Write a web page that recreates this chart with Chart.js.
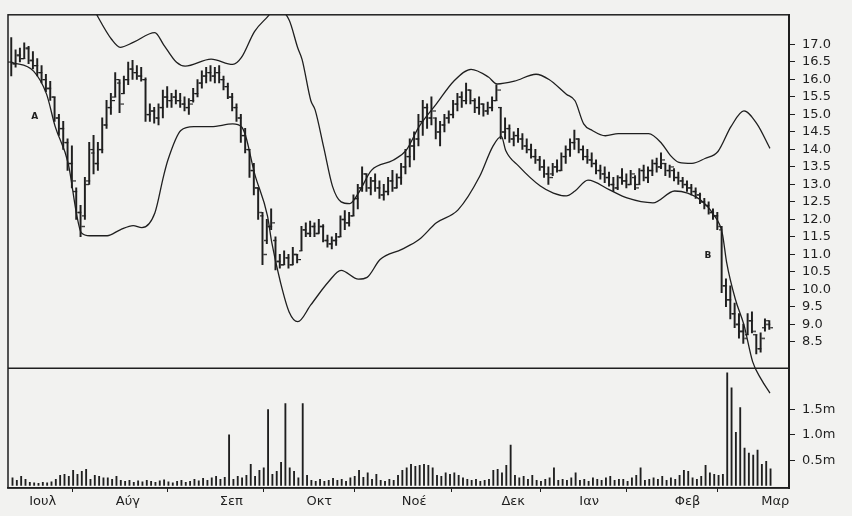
<!DOCTYPE html>
<html>
<head>
<meta charset="utf-8">
<script src="https://cdn.jsdelivr.net/npm/chart.js@4.4.1/dist/chart.umd.min.js"></script>
<style>
  html, body { margin: 0; padding: 0; background: #f2f2f0; }
  #wrap { width: 852px; height: 516px; }
</style>
</head>
<body>
<div id="wrap"><canvas id="chart" width="852" height="516"></canvas></div>
<script>
// daily bars, day 0 = late June, last day = early March
const highs = [
  17.2,16.85,16.9,17.05,16.95,16.8,16.6,16.4,16.15,15.95,
  15.5,15.0,14.8,14.3,14.1,12.9,12.4,13.2,14.2,14.4,
  14.2,14.9,15.4,15.6,16.2,16.0,16.1,16.5,16.55,16.4,
  16.35,16.05,15.3,15.2,15.3,15.7,15.8,15.6,15.7,15.6,
  15.5,15.45,15.75,16.0,16.25,16.35,16.4,16.35,16.4,16.1,
  15.9,15.6,15.3,15.0,14.6,14.0,13.6,12.9,12.2,12.0,
  12.3,11.5,11.0,11.1,11.0,11.2,11.0,11.8,11.9,11.95,
  11.9,12.0,11.85,11.55,11.5,11.6,12.1,12.25,12.2,12.7,
  13.0,13.5,13.3,13.2,13.3,13.1,13.0,13.2,13.4,13.3,
  13.6,14.0,14.3,14.5,15.0,15.4,15.3,15.5,14.9,14.8,
  15.0,15.1,15.4,15.6,15.65,15.9,15.7,15.45,15.5,15.3,
  15.35,15.5,15.85,15.2,14.9,14.7,14.5,14.6,14.45,14.3,
  14.15,14.0,13.8,13.7,13.5,13.6,13.7,13.9,14.1,14.3,
  14.55,14.3,14.1,14.0,13.9,13.7,13.55,13.5,13.35,13.2,
  13.25,13.45,13.3,13.4,13.25,13.45,13.55,13.5,13.7,13.75,
  13.9,13.6,13.55,13.45,13.35,13.2,13.1,13.0,12.9,12.75,
  12.6,12.5,12.3,12.2,11.8,10.3,10.1,9.6,9.3,9.0,
  9.3,9.35,8.7,8.75,9.15,9.1
];
const lows = [
  16.1,16.35,16.5,16.6,16.45,16.3,16.1,15.9,15.65,15.4,
  14.8,14.4,14.0,13.4,12.9,12.0,11.5,12.0,13.0,13.3,
  13.4,13.9,14.6,15.0,15.5,15.05,15.6,15.85,16.0,16.0,
  15.95,14.8,14.8,14.75,14.7,14.9,15.2,15.2,15.3,15.2,
  15.1,15.0,15.35,15.5,15.75,15.9,15.95,15.9,15.9,15.7,
  15.45,15.1,14.8,14.2,13.9,13.2,12.7,12.0,10.7,11.3,
  11.7,10.55,10.6,10.7,10.6,10.7,10.75,11.1,11.5,11.5,
  11.5,11.6,11.35,11.2,11.15,11.25,11.5,11.7,11.8,12.1,
  12.3,12.8,12.8,12.7,12.8,12.6,12.55,12.7,12.8,12.9,
  13.0,13.3,13.5,13.7,14.1,14.4,14.6,14.7,14.3,14.1,
  14.5,14.75,14.9,15.1,15.2,15.3,15.3,15.05,15.0,14.95,
  15.0,15.1,15.4,14.3,14.3,14.2,14.1,14.2,14.0,13.9,
  13.75,13.6,13.4,13.2,13.0,13.25,13.35,13.4,13.6,13.8,
  14.0,13.9,13.7,13.6,13.5,13.3,13.15,13.05,12.95,12.8,
  12.85,13.0,12.9,13.0,12.85,13.0,13.1,13.05,13.25,13.35,
  13.45,13.25,13.2,13.1,13.0,12.9,12.8,12.7,12.6,12.45,
  12.3,12.15,12.0,11.7,9.9,9.5,9.15,8.9,8.6,8.45,
  8.7,8.75,8.15,8.2,8.8,8.85
];
const opens = [
  16.5,16.45,16.7,16.6,16.9,16.55,16.4,16.2,16.0,15.75,
  15.5,14.9,14.6,14.2,13.6,12.8,12.2,12.1,13.1,13.9,
  13.6,14.0,14.7,15.2,15.5,15.9,15.6,16.0,16.3,16.2,
  16.1,16.0,15.0,15.1,14.9,15.2,15.5,15.4,15.5,15.4,
  15.3,15.2,15.4,15.6,15.9,16.1,16.2,16.1,16.2,16.0,
  15.8,15.5,15.2,14.9,14.4,14.0,13.4,12.9,12.1,11.4,
  11.8,11.4,10.8,10.7,10.9,10.7,11.0,11.1,11.7,11.6,
  11.8,11.6,11.8,11.4,11.3,11.4,11.5,12.0,11.9,12.1,
  12.6,12.9,13.3,12.9,13.1,12.9,12.7,12.8,13.1,12.9,
  13.2,13.5,13.8,14.1,14.3,14.8,15.2,14.9,14.9,14.5,
  14.7,14.9,15.0,15.3,15.5,15.4,15.7,15.4,15.2,15.3,
  15.1,15.2,15.4,15.2,14.5,14.6,14.3,14.4,14.3,14.1,
  14.0,13.8,13.7,13.5,13.3,13.3,13.5,13.4,13.8,14.0,
  14.2,14.3,14.0,13.8,13.7,13.6,13.4,13.3,13.2,13.0,
  12.9,13.2,13.1,13.0,13.2,13.0,13.4,13.2,13.4,13.6,
  13.5,13.6,13.4,13.4,13.2,13.1,13.0,12.9,12.8,12.7,
  12.5,12.4,12.2,12.1,11.7,10.1,9.7,9.3,9.0,8.8,
  8.7,9.1,8.7,8.3,8.9,9.0
];
const closes = [
  16.45,16.7,16.6,16.9,16.55,16.4,16.2,16.0,15.75,15.5,
  14.9,14.6,14.2,13.6,13.1,12.2,11.8,13.0,14.0,13.6,
  14.0,14.7,15.2,15.4,16.0,15.3,16.0,16.3,16.2,16.1,
  16.0,15.0,15.1,14.9,15.2,15.5,15.4,15.5,15.4,15.3,
  15.2,15.3,15.6,15.9,16.1,16.2,16.1,16.2,16.0,15.8,
  15.5,15.2,14.9,14.4,14.0,13.4,12.9,12.2,11.0,11.8,
  11.9,10.8,10.7,10.9,10.7,11.0,10.85,11.7,11.6,11.8,
  11.6,11.8,11.4,11.3,11.4,11.5,12.0,11.9,12.1,12.6,
  12.9,13.3,12.9,13.1,12.9,12.7,12.8,13.1,12.9,13.2,
  13.5,13.8,14.1,14.3,14.8,15.2,14.9,15.1,14.5,14.7,
  14.9,15.0,15.3,15.5,15.4,15.7,15.4,15.2,15.3,15.1,
  15.2,15.4,15.7,14.5,14.6,14.3,14.4,14.3,14.1,14.0,
  13.8,13.7,13.5,13.3,13.2,13.5,13.4,13.8,14.0,14.2,
  14.3,14.0,13.8,13.7,13.6,13.4,13.3,13.2,13.0,12.9,
  13.2,13.1,13.0,13.3,12.9,13.4,13.2,13.4,13.6,13.5,
  13.7,13.4,13.5,13.2,13.1,13.0,12.9,12.8,12.7,12.5,
  12.4,12.2,12.1,11.8,10.1,9.7,9.3,9.0,8.8,8.6,
  9.1,8.8,8.3,8.6,9.1,8.9
];
// volume in millions of shares
const volumes = [
  0.15,0.1,0.18,0.12,0.06,0.05,0.04,0.06,0.05,0.07,
  0.12,0.2,0.22,0.18,0.3,0.22,0.28,0.32,0.12,0.2,
  0.18,0.15,0.15,0.12,0.18,0.1,0.08,0.1,0.06,0.09,
  0.07,0.1,0.08,0.06,0.09,0.11,0.07,0.05,0.08,0.1,
  0.06,0.08,0.12,0.09,0.14,0.1,0.15,0.18,0.12,0.16,
  1.0,0.12,0.18,0.15,0.2,0.42,0.18,0.3,0.35,1.5,
  0.22,0.28,0.46,1.62,0.35,0.28,0.15,1.62,0.2,0.1,
  0.08,0.12,0.08,0.1,0.14,0.1,0.12,0.08,0.15,0.18,
  0.3,0.16,0.25,0.12,0.22,0.1,0.08,0.12,0.1,0.2,
  0.3,0.35,0.42,0.38,0.4,0.42,0.4,0.35,0.2,0.18,
  0.25,0.22,0.25,0.2,0.15,0.12,0.1,0.12,0.08,0.1,
  0.12,0.3,0.32,0.25,0.4,0.8,0.2,0.15,0.18,0.12,
  0.2,0.1,0.08,0.12,0.15,0.35,0.1,0.12,0.1,0.15,
  0.25,0.1,0.12,0.08,0.15,0.12,0.1,0.15,0.18,0.1,
  0.12,0.12,0.08,0.15,0.2,0.35,0.1,0.12,0.15,0.12,
  0.18,0.1,0.15,0.12,0.2,0.3,0.28,0.15,0.12,0.18,
  0.4,0.25,0.22,0.2,0.22,2.23,1.93,1.05,1.54,0.74,
  0.64,0.6,0.7,0.42,0.48,0.33
];

// Bollinger bands, read at these days
const upperDays = [0,8,14,17,20,23,25,28,33,35,38,40,46,51,53,56,59,61,64,66,67,69,70,72,74,76,78,80,83,88,91,94,98,102,106,110,112,116,121,124,128,130,132,134,137,140,147,150,152,154,157,160,163,166,169,172,175];
const upperBand = [20.5,20.0,19.2,18.5,17.76,17.15,16.92,17.06,17.34,17.0,16.49,16.38,16.58,16.43,16.63,17.37,17.79,18.05,17.7,16.9,16.57,15.4,15.13,14.05,12.95,12.5,12.45,12.75,13.4,13.69,13.97,14.65,15.3,15.95,16.29,16.07,15.87,15.95,16.15,16.0,15.58,15.39,14.73,14.54,14.39,14.45,14.45,14.17,13.83,13.63,13.6,13.74,13.94,14.65,15.1,14.73,14.03];
const lowerDays = [0,5,8,10,13,15,16,18,22,25,28,30,33,35,36,39,42,46,51,53,54,56,59,60,62,64,66,69,73,76,80,82,85,90,94,98,103,108,111,113,114,117,122,125,128,130,133,138,142,148,153,156,159,162,164,165,167,169,171,173,175];
const lowerBand = [16.49,16.24,15.58,14.65,13.6,12.1,11.62,11.53,11.53,11.7,11.82,11.76,12.18,13.23,13.69,14.54,14.65,14.65,14.73,14.65,14.37,13.32,12.1,11.33,10.2,9.35,9.07,9.55,10.2,10.54,10.29,10.34,10.85,11.14,11.42,11.9,12.27,13.23,14.08,14.37,13.97,13.52,12.95,12.75,12.67,12.81,13.12,12.84,12.61,12.47,12.81,12.75,12.55,12.13,11.6,10.77,9.72,8.98,7.93,7.42,7.03];

const monthDays = [4, 24, 48, 68, 90, 113, 131, 153, 173];
const monthLabels = ["Ιουλ", "Αύγ", "Σεπ", "Οκτ", "Νοέ", "Δεκ", "Ιαν", "Φεβ", "Μαρ"];
const priceTicks = [8.5, 9.0, 9.5, 10.0, 10.5, 11.0, 11.5, 12.0, 12.5, 13.0, 13.5, 14.0, 14.5, 15.0, 15.5, 16.0, 16.5, 17.0];
const volumeTicks = [0.5, 1.0, 1.5];
const notes = [{ text: "A", day: 5.3, price: 14.95 }, { text: "B", day: 160.7, price: 10.97 }];

const ink = "#1f1f1f";
const family = '"DejaVu Sans", sans-serif';

// little open/close ticks: image centred on the point, ink on one side only
function tickImage(side) {
  const c = document.createElement("canvas");
  c.width = 7;
  c.height = 3;
  const g = c.getContext("2d");
  g.fillStyle = ink;
  g.fillRect(side < 0 ? 0 : 3.5, 1, 3.5, 1.2);
  return c;
}

const days = highs.map((_, i) => i);

const framePlugin = {
  id: "frame",
  afterDraw(chart) {
    const { ctx, chartArea: a, scales } = chart;
    ctx.save();
    ctx.strokeStyle = ink;
    ctx.lineWidth = 1.5;
    ctx.strokeRect(a.left, a.top, a.right - a.left, a.bottom - a.top);
    ctx.beginPath();
    ctx.moveTo(a.left, scales.y.bottom);
    ctx.lineTo(a.right, scales.y.bottom);
    ctx.stroke();
    ctx.fillStyle = ink;
    ctx.font = "bold 9px " + family;
    ctx.textAlign = "center";
    ctx.textBaseline = "middle";
    notes.forEach(n => ctx.fillText(n.text, scales.x.getPixelForValue(n.day), scales.y.getPixelForValue(n.price)));
    ctx.restore();
  }
};

const axisTicks = {
  color: ink,
  font: { family: family, size: 13 },
  padding: 7,
  autoSkip: false
};

new Chart(document.getElementById("chart"), {
  type: "bar",
  data: {
    datasets: [
      {
        type: "line",
        label: "Upper band",
        data: upperDays.map((d, k) => ({ x: d, y: upperBand[k] })),
        yAxisID: "y",
        borderColor: ink,
        borderWidth: 1.3,
        pointRadius: 0,
        cubicInterpolationMode: "monotone",
      },
      {
        type: "line",
        label: "Lower band",
        data: lowerDays.map((d, k) => ({ x: d, y: lowerBand[k] })),
        yAxisID: "y",
        borderColor: ink,
        borderWidth: 1.3,
        pointRadius: 0,
        cubicInterpolationMode: "monotone",
        // the band runs on into the volume panel, as in the print
        clip: { left: 2, top: 2, right: 2, bottom: 60 },
      },
      {
        type: "bar",
        label: "Range",
        data: days.map(i => ({ x: i, y: [lows[i], highs[i]] })),
        yAxisID: "y",
        backgroundColor: ink,
        barThickness: 1.3,
      },
      {
        type: "scatter",
        label: "Open",
        data: days.map(i => ({ x: i, y: opens[i] })),
        yAxisID: "y",
        pointStyle: tickImage(-1),
        pointRadius: 2,
      },
      {
        type: "scatter",
        label: "Close",
        data: days.map(i => ({ x: i, y: closes[i] })),
        yAxisID: "y",
        pointStyle: tickImage(1),
        pointRadius: 2,
      },
      {
        type: "bar",
        label: "Volume",
        data: days.map(i => ({ x: i, y: volumes[i] })),
        yAxisID: "yv",
        backgroundColor: ink,
        barThickness: 1.2,
      },
    ],
  },
  options: {
    responsive: false,
    animation: false,
    layout: { padding: { left: 8, top: 10, right: 0, bottom: 0 } },
    plugins: { legend: { display: false }, tooltip: { enabled: false } },
    scales: {
      x: {
        type: "linear",
        min: -0.9,
        max: 179.4,
        offset: false,
        grid: { drawOnChartArea: false, tickLength: 4, color: ink },
        border: { color: ink, width: 1.5 },
        afterBuildTicks: s => { s.ticks = monthDays.map(v => ({ value: v })); },
        afterFit: s => { s.height = 28; },
        ticks: {
          color: ink,
          font: { family: family, size: 13 },
          padding: 2,
          align: "start",
          maxRotation: 0,
          autoSkip: false,
          callback: v => monthLabels[monthDays.indexOf(v)],
        },
      },
      y: {
        type: "linear",
        position: "right",
        stack: "panels",
        stackWeight: 357,
        min: 7.74,
        max: 17.85,
        grid: { drawOnChartArea: false, tickLength: 6, color: ink },
        border: { color: ink, width: 2 },
        afterBuildTicks: s => { s.ticks = priceTicks.map(v => ({ value: v })); },
        afterFit: s => { s.width = 63; },
        ticks: Object.assign({ callback: v => v.toFixed(1) }, axisTicks),
      },
      yv: {
        type: "linear",
        position: "right",
        stack: "panels",
        stackWeight: 121,
        min: -0.05,
        max: 2.32,
        grid: { drawOnChartArea: false, tickLength: 6, color: ink },
        border: { color: ink, width: 2 },
        afterBuildTicks: s => { s.ticks = volumeTicks.map(v => ({ value: v })); },
        afterFit: s => { s.width = 63; },
        ticks: Object.assign({ callback: v => v.toFixed(1) + "m" }, axisTicks),
      },
    },
  },
  plugins: [framePlugin],
});
</script>
</body>
</html>
